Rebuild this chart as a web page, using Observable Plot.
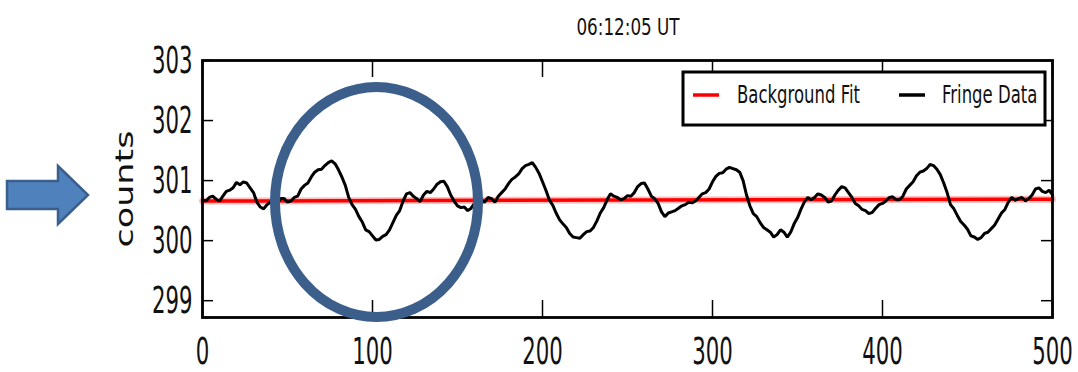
<!DOCTYPE html>
<html>
<head>
<meta charset="utf-8">
<script src="https://cdn.jsdelivr.net/npm/d3@7"></script>
<script src="https://cdn.jsdelivr.net/npm/@observablehq/plot@0.6"></script>
<style>
  html, body { margin: 0; padding: 0; background: #fff; }
  #wrap { position: relative; width: 1078px; height: 372px; overflow: hidden; }
  #overlay { position: absolute; left: 0; top: 0; pointer-events: none; }
</style>
</head>
<body>
<div id="wrap"></div>
<script>
// ---- data ----
const titleText = "06:12:05 UT";
const yLabel = "counts";
const seriesNames = ["Background Fit", "Fringe Data"];
const xTicks = [0, 100, 200, 300, 400, 500];
const yTicks = [299, 300, 301, 302, 303];

const fringeStep = 2; // sample spacing of the read-off values
const fringeCounts = [
  300.68, 300.66, 300.72, 300.74, 300.69, 300.66, 300.74, 300.82, 300.84, 300.88,
  300.97, 300.93, 300.98, 300.96, 300.88, 300.80, 300.64, 300.56, 300.53, 300.60,
  300.64, 300.68, 300.62, 300.70, 300.70, 300.64, 300.66, 300.72, 300.74, 300.86,
  300.92, 300.96, 301.06, 301.14, 301.18, 301.19, 301.25, 301.30, 301.33, 301.28,
  301.18, 301.06, 300.92, 300.72, 300.60, 300.52, 300.40, 300.31, 300.18, 300.15,
  300.08, 300.01, 300.02, 300.07, 300.10, 300.18, 300.30, 300.42, 300.50, 300.66,
  300.78, 300.80, 300.74, 300.70, 300.65, 300.76, 300.82, 300.80, 300.86, 300.94,
  300.98, 300.99, 300.90, 300.76, 300.66, 300.58, 300.55, 300.56, 300.50, 300.54,
  300.62, 300.69, 300.66, 300.64, 300.72, 300.70, 300.64, 300.74, 300.80, 300.86,
  300.95, 301.02, 301.06, 301.11, 301.20, 301.25, 301.27, 301.30, 301.22, 301.12,
  300.98, 300.84, 300.68, 300.59, 300.46, 300.35, 300.28, 300.22, 300.12, 300.06,
  300.05, 300.04, 300.10, 300.15, 300.16, 300.22, 300.33, 300.46, 300.55, 300.68,
  300.78, 300.74, 300.72, 300.68, 300.70, 300.75, 300.74, 300.80, 300.90, 300.95,
  300.96, 300.86, 300.74, 300.70, 300.62, 300.48, 300.40, 300.46, 300.48, 300.50,
  300.54, 300.58, 300.60, 300.64, 300.63, 300.66, 300.72, 300.78, 300.80, 300.86,
  300.98, 301.07, 301.12, 301.13, 301.19, 301.22, 301.20, 301.18, 301.14, 301.00,
  300.76, 300.58, 300.45, 300.40, 300.30, 300.22, 300.18, 300.14, 300.06, 300.10,
  300.18, 300.14, 300.06, 300.14, 300.28, 300.38, 300.52, 300.64, 300.72, 300.68,
  300.72, 300.78, 300.76, 300.72, 300.64, 300.66, 300.76, 300.84, 300.90, 300.88,
  300.80, 300.72, 300.62, 300.58, 300.52, 300.50, 300.45, 300.47, 300.54, 300.60,
  300.62, 300.66, 300.72, 300.73, 300.68, 300.68, 300.74, 300.86, 300.92, 300.98,
  301.08, 301.14, 301.16, 301.20, 301.27, 301.25, 301.19, 301.10, 300.96, 300.80,
  300.60, 300.53, 300.42, 300.32, 300.26, 300.19, 300.08, 300.06, 300.02, 300.05,
  300.12, 300.14, 300.20, 300.26, 300.36, 300.46, 300.52, 300.64, 300.72, 300.67,
  300.70, 300.72, 300.66, 300.70, 300.76, 300.86, 300.88, 300.82, 300.80, 300.84,
  300.76
];
const backgroundX = [0, 500];
const backgroundCounts = [300.66, 300.69];

// ---- tables built from the arrays ----
const fringe = fringeCounts.map((v, i) => ({x: i * fringeStep, y: v}));
const background = backgroundX.map((x, i) => ({x, y: backgroundCounts[i]}));

const W = 1078, H = 372;
const mL = 202, mR = 26, mT = 60, mB = 55;
const frameW = W - mL - mR, frameH = H - mT - mB;

const plot = Plot.plot({
  width: W,
  height: H,
  marginLeft: mL,
  marginRight: mR,
  marginTop: mT,
  marginBottom: mB,
  style: {fontFamily: "'DejaVu Sans', sans-serif", color: "#111", background: "#fff", overflow: "visible"},
  x: {domain: [0, 500], axis: null},
  y: {domain: [298.72, 303], axis: null},
  marks: [
    Plot.line(background, {x: "x", y: "y", stroke: "#ff0000", strokeWidth: 7, strokeOpacity: 0.25}),
    Plot.line(background, {x: "x", y: "y", stroke: "#ff0000", strokeWidth: 3.5}),
    Plot.line(fringe, {x: "x", y: "y", stroke: "#000", strokeWidth: 3, strokeLinejoin: "miter"}),
    // inward ticks on all four sides
    Plot.tickX(xTicks, {x: d => d, stroke: "#000", strokeWidth: 1.5, insetTop: frameH - 17}),
    Plot.tickX(xTicks, {x: d => d, stroke: "#000", strokeWidth: 1.5, insetBottom: frameH - 17}),
    Plot.tickY(yTicks, {y: d => d, stroke: "#000", strokeWidth: 1.5, insetRight: frameW - 11}),
    Plot.tickY(yTicks, {y: d => d, stroke: "#000", strokeWidth: 1.5, insetLeft: frameW - 11}),
    Plot.frame({stroke: "#000", strokeWidth: 2.8}),
    Plot.axisX({ticks: xTicks, anchor: "bottom", label: null, tickSize: 0, tickPadding: 20, fontSize: 38, tickFormat: d => String(d)}),
    Plot.axisY({ticks: yTicks, anchor: "left", label: null, tickSize: 0, tickPadding: 10, fontSize: 38, tickFormat: d => String(d)})
  ]
});

// horizontally squash the tick labels (the reference is stretched vertically)
function squash(root, selector, sx) {
  root.querySelectorAll(selector).forEach(t => {
    const x = +(t.getAttribute("x") || 0);
    const tr = t.getAttribute("transform") || "";
    t.setAttribute("transform", `${tr} translate(${x},0) scale(${sx},1) translate(${-x},0)`);
  });
}
squash(plot, 'g[aria-label="x-axis tick label"] text, g[aria-label="y-axis tick label"] text', 0.56);

const wrap = document.getElementById("wrap");
wrap.appendChild(plot);

// ---- annotations: title, y label, legend, arrow, circle ----
const ov = d3.create("svg").attr("id", "overlay").attr("width", W).attr("height", H)
  .style("font-family", "'DejaVu Sans', sans-serif");

ov.append("text").attr("transform", "translate(628,35) scale(0.73,1)")
  .attr("text-anchor", "middle").attr("font-size", 23).attr("fill", "#111").text(titleText);

ov.append("text").attr("transform", "translate(133,189) scale(0.72,1) rotate(-90)")
  .attr("text-anchor", "middle").attr("font-size", 35).attr("fill", "#111").text(yLabel);

// legend
const lg = ov.append("g");
lg.append("rect").attr("x", 683).attr("y", 72).attr("width", 362).attr("height", 53)
  .attr("fill", "#fff").attr("stroke", "#000").attr("stroke-width", 3);
lg.append("line").attr("x1", 693).attr("x2", 719).attr("y1", 95).attr("y2", 95)
  .attr("stroke", "#ff0000").attr("stroke-width", 3.5);
lg.append("text").attr("transform", "translate(737,103) scale(0.66,1)")
  .attr("font-size", 25).attr("fill", "#111").text(seriesNames[0]);
lg.append("line").attr("x1", 899).attr("x2", 925).attr("y1", 95).attr("y2", 95)
  .attr("stroke", "#000").attr("stroke-width", 3.5);
lg.append("text").attr("transform", "translate(942,103) scale(0.66,1)")
  .attr("font-size", 25).attr("fill", "#111").text(seriesNames[1]);

// arrow
ov.append("polygon")
  .attr("points", "7,181 58,181 58,166 88,195 58,224 58,209 7,209")
  .attr("fill", "#4f81bd").attr("stroke", "#3a5f8c").attr("stroke-width", 2.5).attr("stroke-linejoin", "miter");

// circle highlight
ov.append("ellipse").attr("cx", 376.5).attr("cy", 202).attr("rx", 101.5).attr("ry", 115)
  .attr("fill", "none").attr("stroke", "#3b5e8b").attr("stroke-width", 10);

wrap.appendChild(ov.node());
</script>
</body>
</html>
